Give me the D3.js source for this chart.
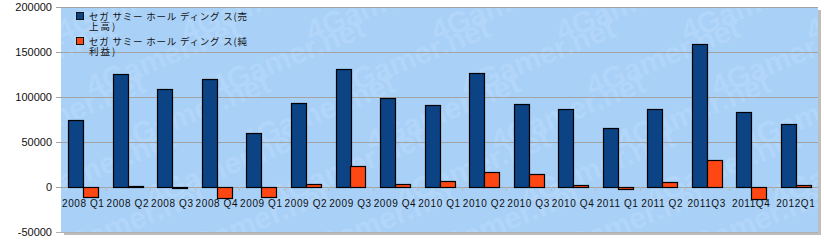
<!DOCTYPE html>
<html>
<head>
<meta charset="utf-8">
<script src="https://cdn.jsdelivr.net/npm/d3@7"></script>
<style>
  body { margin: 0; background: #fff; }
  svg { display: block; }
</style>
</head>
<body>
<script>
// quarters, sales (売上高) and net income (純利益), million yen
var quarters = ["2008 Q1","2008 Q2","2008 Q3","2008 Q4","2009 Q1","2009 Q2","2009 Q3","2009 Q4",
                "2010 Q1","2010 Q2","2010 Q3","2010 Q4","2011 Q1","2011 Q2","2011Q3","2011Q4","2012Q1"];
var sales     = [74400,125500,108900,120000,60300,93700,131400,98900,
                 91100,126700,92200,86700,65600,86700,158900,83300,70000];
var netIncome = [-11100,1000,-1500,-12200,-11100,3300,23300,3300,
                 6700,16700,14400,2200,-2000,5600,30000,-13300,2500];
var yTicks = [-50000,0,50000,100000,150000,200000];
var seriesNames = ["セガサミーホールディングス(売上高)","セガサミーホールディングス(純利益)"];
var legendLines = [["セガ サミー ホール ディング ス(売","上高)"],["セガ サミー ホール ディング ス(純","利益)"]];
var colors = ["#0b4384","#ff4714"];

var W = 824, H = 250;
var pL = 61, pR = 818, pT = 7, pB = 232;

var svg = d3.select("body").append("svg").attr("width",W).attr("height",H);

var x = d3.scaleBand().domain(quarters).range([pL,pR]).paddingInner(0.33).paddingOuter(0.165);
var xs = d3.scaleBand().domain([0,1]).range([0,x.bandwidth()]);
var y = d3.scaleLinear().domain([-50000,200000]).range([pB,pT]);

// shadow + plot background
svg.append("rect").attr("x",pL+3).attr("y",pT+3).attr("width",pR-pL).attr("height",pB-pT).attr("fill","#bdbdbd");
svg.append("rect").attr("x",pL).attr("y",pT).attr("width",pR-pL).attr("height",pB-pT).attr("fill","#a9d0f7");

// watermark, tiled over the plot
svg.append("clipPath").attr("id","pc").append("rect")
  .attr("x",pL).attr("y",pT).attr("width",pR-pL).attr("height",pB-pT);
var wmPos = [];
for (var r = -1; r < 5; r++) for (var c = -1; c < 8; c++) wmPos.push([pL + c*125 + r*30, pT + 35 + r*55]);
svg.append("g").attr("clip-path","url(#pc)")
  .selectAll("text").data(wmPos).enter().append("text")
  .attr("transform",function(d){return "translate("+d[0]+","+d[1]+") rotate(-22)";})
  .attr("font-family","Arial, 'Liberation Sans', sans-serif").attr("font-weight","bold")
  .attr("font-size",30).attr("fill","#b2d6f9")
  .text("4Gamer.net");

// gridlines
svg.selectAll("line.grid").data(yTicks).enter().append("line").attr("class","grid")
  .attr("x1",pL-5).attr("x2",pR).attr("y1",function(d){return y(d)+0.5;}).attr("y2",function(d){return y(d)+0.5;})
  .attr("stroke",function(d){return d===-50000 ? "#b0b0b0" : "#a3a3a3";}).attr("stroke-width",1);

// y labels
svg.selectAll("text.ylab").data(yTicks).enter().append("text").attr("class","ylab")
  .attr("x",52).attr("y",function(d){return y(d)+4;}).attr("text-anchor","end")
  .attr("font-family","Arial, 'Liberation Sans', sans-serif").attr("font-size",11).attr("fill","#111")
  .text(function(d){return d;});

// x ticks between groups at zero
svg.selectAll("line.xt").data(quarters.slice(1)).enter().append("line").attr("class","xt")
  .attr("x1",function(d){return Math.round(x(d) - x.step()*x.paddingInner()/2)+0.5;})
  .attr("x2",function(d){return Math.round(x(d) - x.step()*x.paddingInner()/2)+0.5;})
  .attr("y1",y(0)).attr("y2",y(0)+4).attr("stroke","#b9b9b9");

// bars
var series = [sales, netIncome];
series.forEach(function(vals, si){
  svg.selectAll("rect.s"+si).data(vals).enter().append("rect").attr("class","s"+si)
    .attr("x",function(d,i){return Math.round(x(quarters[i]) + xs(si))+0.5;})
    .attr("width",Math.round(xs.bandwidth()))
    .attr("y",function(d){return Math.round(y(Math.max(d,0)))+0.5;})
    .attr("height",function(d){return Math.max(1,Math.round(Math.abs(y(d)-y(0))));})
    .attr("fill",colors[si]).attr("stroke","#000").attr("stroke-width",1.2);
});

// x labels
svg.selectAll("text.xlab").data(quarters).enter().append("text").attr("class","xlab")
  .attr("x",function(d){return x(d)+x.bandwidth()/2;}).attr("y",207).attr("text-anchor","middle")
  .attr("font-family","Arial, 'Liberation Sans', sans-serif").attr("font-size",10)
  .attr("letter-spacing",0.6).attr("fill","#111")
  .text(function(d){return d;});

// legend
var lg = svg.append("g");
legendLines.forEach(function(lines, li){
  var ly = 12 + li*25;
  lg.append("rect").attr("x",76.5).attr("y",ly+0.5).attr("width",7).attr("height",7)
    .attr("fill",colors[li]).attr("stroke","#111").attr("stroke-width",1);
  var t = lg.append("text").attr("font-family","'Noto Sans CJK JP', sans-serif").attr("font-size",9.5)
    .attr("fill","#111");
  t.append("title").text(seriesNames[li]);
  lines.forEach(function(s, k){
    var ts = t.append("tspan").attr("x",89).attr("y",ly+8+k*10).text(s);
    if (k===0) ts.attr("textLength",158).attr("lengthAdjust","spacing");
    else ts.attr("letter-spacing",2);
  });
});
</script>
</body>
</html>
